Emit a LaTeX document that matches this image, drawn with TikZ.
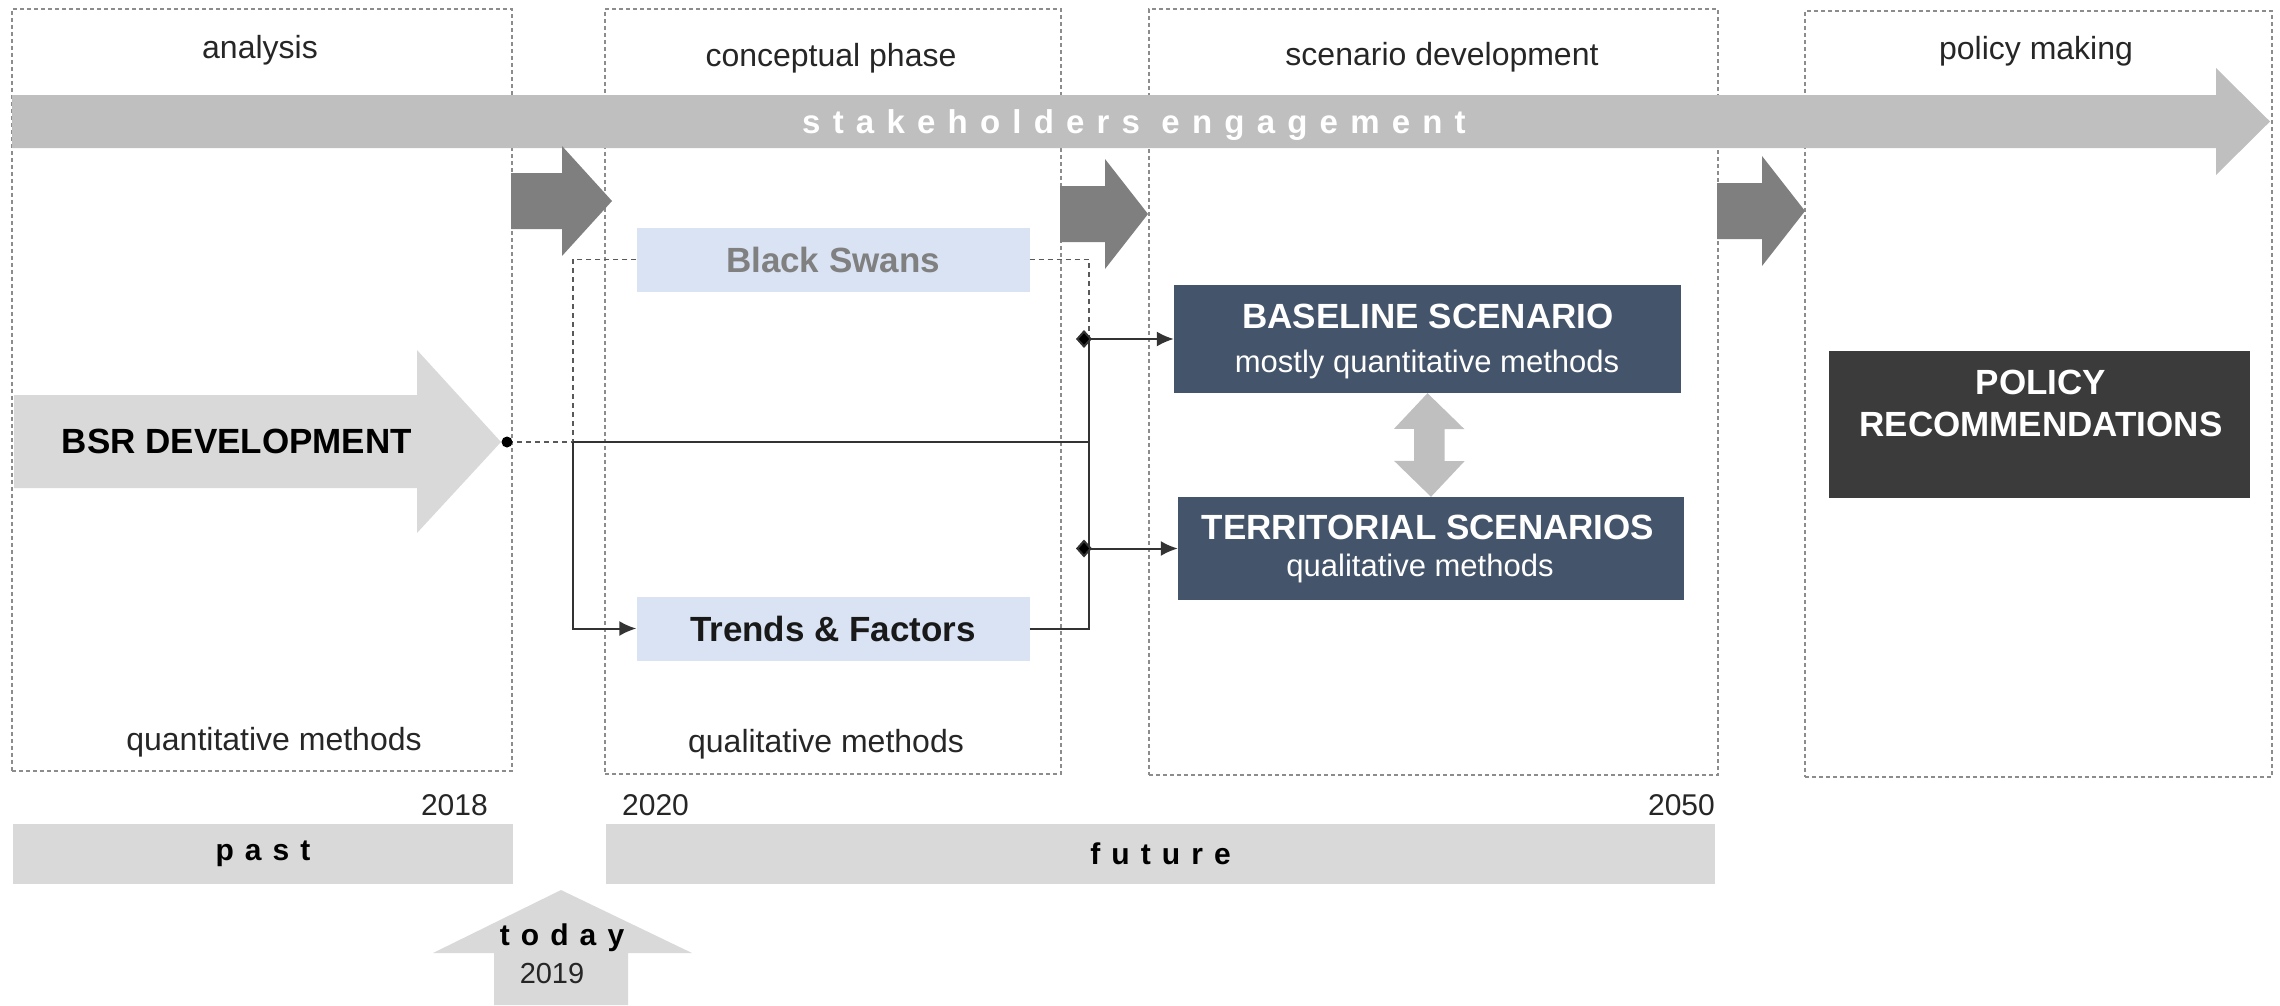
\documentclass[tikz,border=0pt]{standalone}
\usepackage{fontspec}
\setmainfont{Liberation Sans}
\newfontfamily\spacedfont{Liberation Sans}[LetterSpace=37]
\usepackage{tikz}
\usetikzlibrary{arrows.meta}

\definecolor{stakegray}{HTML}{BFBFBF}
\definecolor{stepgray}{HTML}{7F7F7F}
\definecolor{bargray}{HTML}{D9D9D9}
\definecolor{swanblue}{HTML}{DAE3F3}
\definecolor{slate}{HTML}{44546A}
\definecolor{charcoal}{HTML}{3B3B3B}
\definecolor{boxline}{HTML}{8C8C8C}
\definecolor{wire}{HTML}{333333}

\newcommand{\regsize}{\fontsize{32}{38}\selectfont}
\newcommand{\boldsize}{\fontsize{35}{42}\selectfont\bfseries}
\newcommand{\barsize}{\fontsize{30}{36}\selectfont\spacedfont\bfseries}

\tikzset{
  phasebox/.style={draw=boxline, line width=1.5pt, dash pattern=on 4pt off 3pt, anchor=north west, inner sep=0pt},
  lbl/.style={font=\regsize, text=black!85, anchor=base, inner sep=0pt},
  lightbox/.style={fill=swanblue, minimum width=393pt, minimum height=64pt, inner sep=0pt, font=\boldsize},
  scenbox/.style={fill=slate, inner sep=0pt},
  timebar/.style={fill=bargray, minimum height=60pt, inner sep=0pt, font=\barsize},
  conn/.style={draw=wire, line width=2pt},
  swanline/.style={draw=black!65, line width=1.5pt, dash pattern=on 5pt off 4pt},
  tipin/.style={-{Latex[length=17pt,width=15pt]}},
  tipboth/.style={{Diamond[length=16pt,width=18pt,fill=black]}-{Latex[length=17pt,width=15pt]}},
}

\begin{document}
\begin{tikzpicture}[x=1pt, y=-1pt]
  \useasboundingbox (0,0) rectangle (2280,1005);

  % phases
  \node (ana)  [phasebox, minimum width=500pt, minimum height=762pt] at (11,8) {};
  \node (conc) [phasebox, minimum width=456pt, minimum height=765pt] at (604,8) {};
  \node (scen) [phasebox, minimum width=569pt, minimum height=766pt] at (1148,8) {};
  \node (pol)  [phasebox, minimum width=467pt, minimum height=766pt] at (1804,10) {};

  \node (anaT)  [lbl] at (260,58) {analysis};
  \node (concT) [lbl] at (831,66) {conceptual phase};
  \node (scenT) [lbl] at (1442,65) {scenario development};
  \node (polT)  [lbl] at (2036,59) {policy making};

  \node (anaB)  [lbl] at (274,750) {quantitative methods};
  \node (concB) [lbl] at (826,752) {qualitative methods};

  % stakeholders arrow
  \fill[stakegray] (12,95) -- (2216,95) -- (2216,68) -- (2270,121.5) -- (2216,175) -- (2216,148) -- (12,148) -- cycle;
  \node (stake) [font=\fontsize{33}{39}\selectfont\spacedfont\bfseries, text=white, anchor=base, inner sep=0pt] at (1134,133) {stakeholders engagement};

  % phase steps
  \foreach \xa/\xb/\xc/\ym in {511/562/612/201, 1060/1105/1148/214, 1717/1762/1805/211}
    \fill[stepgray] (\xa,\ym-28) -- (\xb,\ym-28) -- (\xb,\ym-55) -- (\xc,\ym) -- (\xb,\ym+55) -- (\xb,\ym+28) -- (\xa,\ym+28) -- cycle;

  % BSR development
  \fill[bargray] (14,395) -- (417,395) -- (417,350) -- (501,442) -- (417,533) -- (417,488) -- (14,488) -- cycle;
  \node (bsr) [font=\boldsize, anchor=base, inner sep=0pt] at (237,453) {BSR DEVELOPMENT};
  \coordinate (dot) at (507,442);

  % conceptual boxes
  \node (swans)  [lightbox, text=black!50] at (833,259.5) {Black Swans};
  \node (trends) [lightbox, text=black!90] at (833,628.5) {Trends \& Factors};

  % scenarios
  \node (base) [scenbox, minimum width=507pt, minimum height=108pt] at (1427.5,339) {};
  \node (baseT) [font=\boldsize, text=white, anchor=base] at (1428,328) {BASELINE SCENARIO};
  \node (baseS) [lbl, font=\fontsize{31}{37}\selectfont, text=white] at (1427,372) {mostly quantitative methods};
  \node (terr) [scenbox, minimum width=506pt, minimum height=103pt] at (1431,548.5) {};
  \node (terrT) [font=\boldsize, text=white, anchor=base] at (1428,539) {TERRITORIAL SCENARIOS};
  \node (terrS) [lbl, font=\fontsize{31}{37}\selectfont, text=white] at (1420,576) {qualitative methods};
  \fill[stakegray] (base.south) -- ++(37,36) -- ++(-20,0) -- ++(0,32) -- ++(20,0) -- (terr.north)
    -- ++(-37,-36) -- ++(20,0) -- ++(0,-32) -- ++(-20,0) -- cycle;

  % policy
  \node (rec) [fill=charcoal, minimum width=421pt, minimum height=147pt] at (2039.5,424.5) {};
  \node (recT) [font=\boldsize, text=white, align=center] at (2041,403) {POLICY\\RECOMMENDATIONS};

  % links
  \coordinate (jL) at (573,442);
  \coordinate (jM) at (1089,442);
  \coordinate (jR) at (1089,339);
  \coordinate (jT) at (1089,548.5);
  \draw[swanline] (swans.west) -| (jL) -- (dot);
  \draw[swanline] (swans.east) -| (jR);
  \draw[conn] (jL) -- (jM);
  \draw[conn, tipin] (jL) |- (trends.west);
  \draw[conn] (trends.east) -| (jR);
  \draw[conn, tipboth] ([xshift=-13pt]jR) -- (base.west);
  \draw[conn, tipboth] ([xshift=-13pt]jT) -- (terr.west);
  \fill[black] (dot) circle (5.5pt);

  % time line
  \node (y18) [lbl, anchor=base east, font=\fontsize{30}{36}\selectfont] at (488,815) {2018};
  \node (y20) [lbl, anchor=base west, font=\fontsize{30}{36}\selectfont] at (622,815) {2020};
  \node (y50) [lbl, anchor=base east, font=\fontsize{30}{36}\selectfont] at (1715,815) {2050};
  \node (past)   [timebar, minimum width=500pt]  at (263,854) {past};
  \node (future) [timebar, minimum width=1109pt] at (1160.5,854) {future};

  \fill[bargray] (561,890) -- (692,953) -- (628,953) -- (628,1005) -- (494,1005) -- (494,953) -- (433,953) -- cycle;
  \node (today) [font=\barsize, anchor=base, inner sep=0pt] at (562,945) {today};
  \node (y19) [lbl, font=\fontsize{29}{35}\selectfont] at (552,983) {2019};
\end{tikzpicture}
\end{document}
